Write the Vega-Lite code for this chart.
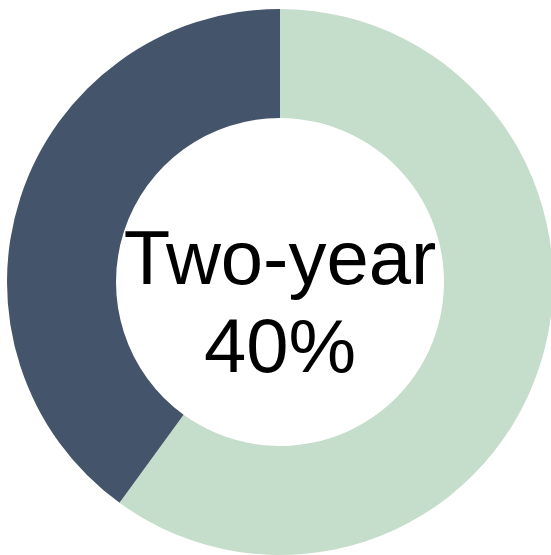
{
  "$schema": "https://vega.github.io/schema/vega-lite/v6.json",
  "width": 551,
  "height": 555,
  "autosize": {"type": "fit", "contains": "padding"},
  "padding": {"left": 9, "top": 9, "right": 0, "bottom": 0},
  "background": "white",
  "view": {"stroke": null},
  "layer": [
    {
      "data": {"values": [
        {"category": "Other", "value": 60, "rank": 1},
        {"category": "Two-year", "value": 40, "rank": 2}
      ]},
      "mark": {"type": "arc", "outerRadius": 273, "innerRadius": 164},
      "encoding": {
        "theta": {"field": "value", "type": "quantitative", "stack": true},
        "order": {"field": "rank", "type": "quantitative"},
        "color": {
          "field": "category", "type": "nominal",
          "scale": {"domain": ["Other", "Two-year"], "range": ["#c5ddcb", "#44546a"]},
          "legend": null
        }
      }
    },
    {
      "data": {"values": [{"label": "Two-year\n40%"}]},
      "mark": {"type": "text", "font": "Liberation Sans", "fontSize": 76, "lineBreak": "\n", "lineHeight": 88, "align": "center", "baseline": "middle", "color": "black", "dy": -21},
      "encoding": {"text": {"field": "label"}}
    }
  ]
}
